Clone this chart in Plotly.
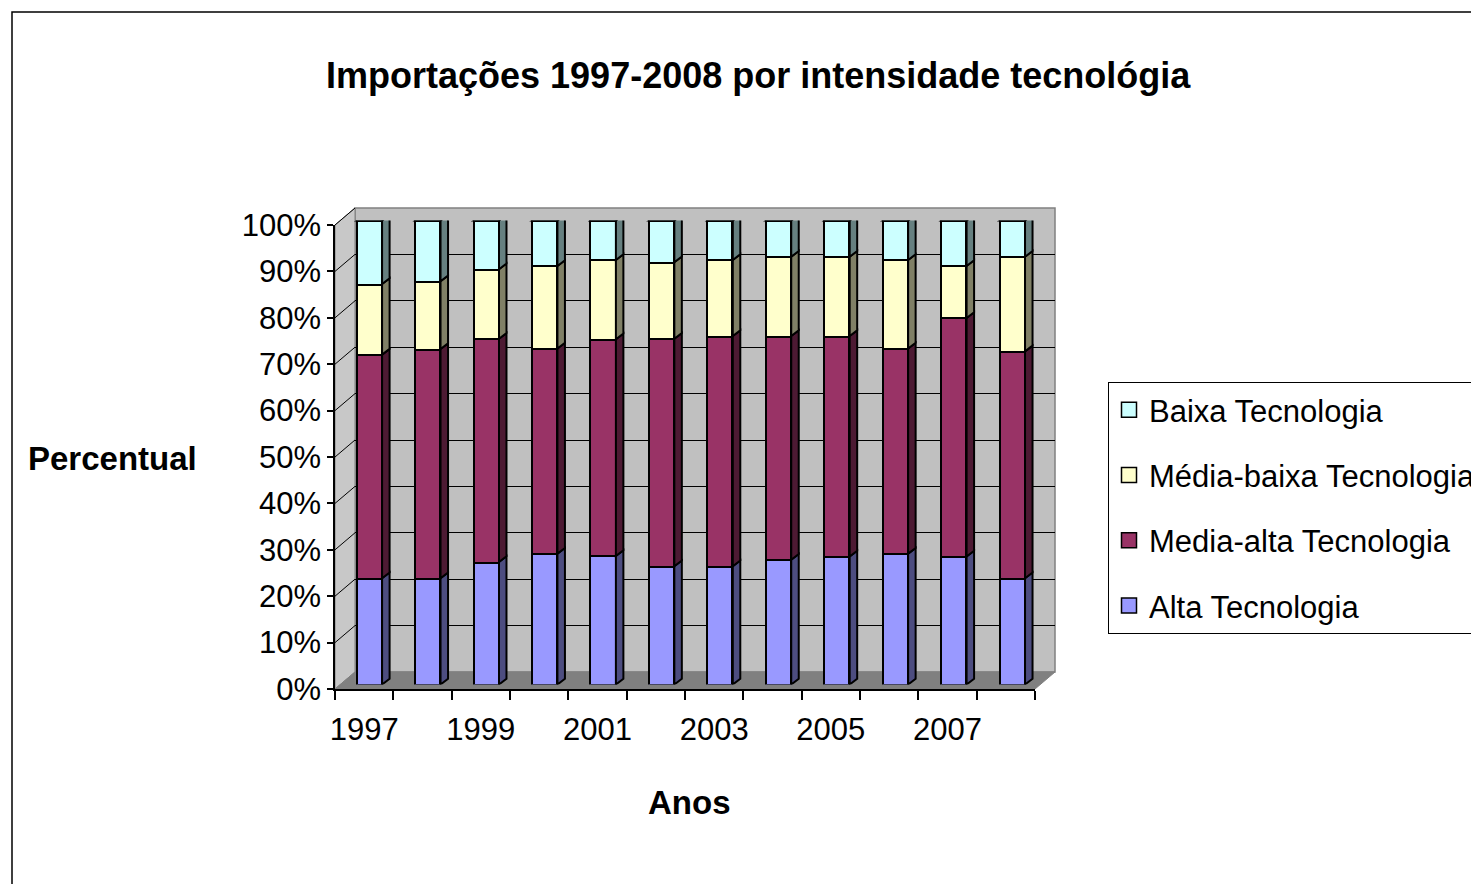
import numpy as np
import plotly.graph_objects as go

# ---------------- data ----------------
years = ["1997", "1998", "1999", "2000", "2001", "2002",
         "2003", "2004", "2005", "2006", "2007", "2008"]
alta = [22.9, 22.9, 26.4, 28.2, 27.7, 25.5, 25.5, 26.9, 27.6, 28.2, 27.6, 22.9]
media_alta = [48.2, 49.4, 48.1, 44.2, 46.7, 49.0, 49.6, 48.2, 47.5, 44.2, 51.4, 48.9]
media_baixa = [15.2, 14.6, 15.0, 17.8, 17.1, 16.5, 16.4, 17.1, 17.1, 19.1, 11.2, 20.4]
baixa = [13.7, 13.1, 10.5, 9.8, 8.5, 9.0, 8.5, 7.8, 7.8, 8.5, 9.8, 7.8]

series_names = ["Alta Tecnologia", "Media-alta Tecnologia",
                "Média-baixa Tecnologia", "Baixa Tecnologia"]
series_values = [alta, media_alta, media_baixa, baixa]
front_colors = ["#9999FF", "#993366", "#FFFFCC", "#CCFFFF"]
side_colors = ["#4D4D80", "#4D1A33", "#808066", "#668080"]
top_color = "#99CCCC"
y_ticks = list(range(0, 101, 10))
y_tick_text = [f"{v}%" for v in y_ticks]

title_text = "Importações 1997-2008 por intensidade tecnológia"
x_title = "Anos"
y_title = "Percentual"

FONT = "Liberation Sans, Arial, sans-serif"

# ---------------- geometry helpers (page pixels -> paper) ----------------
OFF = 8  # default page body margin
W, H = 1479 - OFF, 884 - OFF


def px(x):
    return (x - OFF) / W


def py(y):
    return 1 - (y - OFF) / H


# front frame (axes)
FX0, FX1, FY0, FY100 = 335, 1035, 689, 225
# depth offset of the back wall
DX, DY = 20, -17
# bars plane
BX0, BX1, BY0, BY100 = 340.3, 1041.7, 684.5, 220.5

n = len(years)
xidx = list(range(n))

fig = go.Figure()

# ---- back wall subplot (xy): gridlines only
fig.add_trace(go.Scatter(x=[None], y=[None], xaxis="x", yaxis="y",
                         showlegend=False, hoverinfo="skip"))

# ---- bars subplot (x2y2)
for k, (name, vals, col) in enumerate(zip(series_names, series_values, front_colors)):
    fig.add_trace(go.Bar(
        x=xidx, y=vals, name=name, xaxis="x2", yaxis="y2",
        width=0.43, marker=dict(color=col, line=dict(color="black", width=2)),
        showlegend=False, legendgroup=name,
    ))
    # legend proxy with a larger square symbol
    fig.add_trace(go.Scatter(
        x=[None], y=[None], name=name, xaxis="x2", yaxis="y2", mode="markers",
        marker=dict(symbol="square", size=15, color=col,
                    line=dict(color="black", width=1.5)),
        legendgroup=name, legendrank=len(series_names) - k, hoverinfo="skip",
    ))

# ---- front axes subplot (x3y3)
fig.add_trace(go.Scatter(x=[None], y=[None], xaxis="x3", yaxis="y3",
                         showlegend=False, hoverinfo="skip"))

shapes = []
# outer chart border
shapes.append(dict(type="rect", xref="paper", yref="paper",
                   x0=px(12), x1=px(1479 + 10), y0=py(884 + 10), y1=py(12),
                   line=dict(color="black", width=1.5), fillcolor="rgba(0,0,0,0)",
                   layer="below"))
# back wall
shapes.append(dict(type="rect", xref="paper", yref="paper",
                   x0=px(FX0 + DX), x1=px(FX1 + DX), y0=py(FY0 + DY), y1=py(FY100 + DY),
                   line=dict(color="#808080", width=1.5), fillcolor="#C0C0C0",
                   layer="below"))
# left wall
shapes.append(dict(type="path", xref="paper", yref="paper",
                   path=(f"M{px(FX0)},{py(FY0)} L{px(FX0)},{py(FY100)} "
                         f"L{px(FX0 + DX)},{py(FY100 + DY)} L{px(FX0 + DX)},{py(FY0 + DY)} Z"),
                   line=dict(color="#808080", width=1), fillcolor="#C8C8C8",
                   layer="below"))
# floor
shapes.append(dict(type="path", xref="paper", yref="paper",
                   path=(f"M{px(FX0)},{py(FY0)} L{px(FX0 + DX)},{py(FY0 + DY)} "
                         f"L{px(FX1 + DX)},{py(FY0 + DY)} L{px(FX1)},{py(FY0)} Z"),
                   line=dict(color="#808080", width=1), fillcolor="#808080",
                   layer="below"))
# diagonal gridlines on the left wall
for v in y_ticks[1:]:
    yf = FY0 + (FY100 - FY0) * v / 100
    yb = yf + DY
    shapes.append(dict(type="line", xref="paper", yref="paper",
                       x0=px(FX0), y0=py(yf), x1=px(FX0 + DX), y1=py(yb),
                       line=dict(color="black", width=1), layer="below"))

# 3D side faces and top faces of bars (data coordinates on x2/y2)
half = 0.43 / 2
ddx = 7.5 / ((BX1 - BX0) / n)
ddy = 5.7 / ((BY0 - BY100) / 100)
cum = np.cumsum(np.array(series_values), axis=0)
for s in range(len(series_values)):
    for i in xidx:
        lo = cum[s - 1][i] if s > 0 else 0.0
        hi = cum[s][i]
        xr = i + half
        shapes.append(dict(
            type="path", xref="x2", yref="y2",
            path=(f"M{xr},{lo} L{xr + ddx},{lo + ddy} L{xr + ddx},{hi + ddy} L{xr},{hi} Z"),
            fillcolor=side_colors[s], line=dict(color="black", width=2), layer="above"))
for i in xidx:
    top = cum[-1][i]
    xl, xr = i - half, i + half
    shapes.append(dict(
        type="path", xref="x2", yref="y2",
        path=(f"M{xl},{top} L{xr},{top} L{xr + ddx},{top + ddy} L{xl + ddx},{top + ddy} Z"),
        fillcolor=top_color, line=dict(color="black", width=2), layer="above"))

annotations = [
    dict(text=f"<b>{title_text}</b>", x=px(758), y=py(75), xref="paper", yref="paper",
         showarrow=False, font=dict(family=FONT, size=36, color="black"),
         xanchor="center", yanchor="middle"),
    dict(text=f"<b>{y_title}</b>", x=px(26), y=py(458), xref="paper", yref="paper",
         showarrow=False, font=dict(family=FONT, size=33, color="black"),
         xanchor="left", yanchor="middle"),
    dict(text=f"<b>{x_title}</b>", x=px(689), y=py(802), xref="paper", yref="paper",
         showarrow=False, font=dict(family=FONT, size=33, color="black"),
         xanchor="center", yanchor="middle"),
]

fig.update_layout(
    width=W, height=H,
    margin=dict(l=0, r=0, t=0, b=0, autoexpand=False),
    paper_bgcolor="white", plot_bgcolor="rgba(0,0,0,0)",
    barmode="stack", bargap=0,
    font=dict(family=FONT, color="black"),
    shapes=shapes, annotations=annotations,
    # back wall
    xaxis=dict(domain=[px(FX0 + DX), px(FX1 + DX)], range=[-0.5, n - 0.5],
               showgrid=False, showticklabels=False, zeroline=False, anchor="y",
               fixedrange=True),
    yaxis=dict(domain=[py(FY0 + DY), py(FY100 + DY)], range=[0, 100],
               tickvals=y_ticks, showgrid=True, gridcolor="black", gridwidth=1,
               showticklabels=False, zeroline=False, anchor="x", fixedrange=True),
    # bars
    xaxis2=dict(domain=[px(BX0), px(BX1)], range=[-0.5, n - 0.5], visible=False,
                anchor="y2", fixedrange=True),
    yaxis2=dict(domain=[py(BY0), py(BY100)], range=[0, 100], visible=False,
                anchor="x2", fixedrange=True),
    # front axes
    xaxis3=dict(domain=[px(FX0), px(FX1)], range=[-0.5, n - 0.5], anchor="y3",
                tickvals=xidx[0::2], ticktext=years[0::2], ticks="",
                tickfont=dict(family=FONT, size=31, color="black"),
                showline=True, linecolor="black", linewidth=1.5,
                showgrid=False, zeroline=False, ticklabelstandoff=12,
                minor=dict(tickmode="array", tickvals=[i - 0.5 for i in range(n + 1)],
                           ticks="outside", ticklen=9, tickcolor="black", tickwidth=1.5,
                           showgrid=False),
                fixedrange=True),
    yaxis3=dict(domain=[py(FY0), py(FY100)], range=[0, 100], anchor="x3",
                tickvals=y_ticks, ticktext=y_tick_text, ticks="outside", ticklen=6,
                tickcolor="black", tickwidth=1.5,
                tickfont=dict(family=FONT, size=31, color="black"),
                showline=True, linecolor="black", linewidth=1.5,
                showgrid=False, zeroline=False, fixedrange=True),
    legend=dict(x=px(1108), y=py(382), xanchor="left", yanchor="top",
                xref="paper", yref="paper",
                traceorder="grouped", tracegroupgap=22,
                bgcolor="white", bordercolor="black", borderwidth=1,
                font=dict(family=FONT, size=31, color="black")),
)

fig.write_html("out.html")
